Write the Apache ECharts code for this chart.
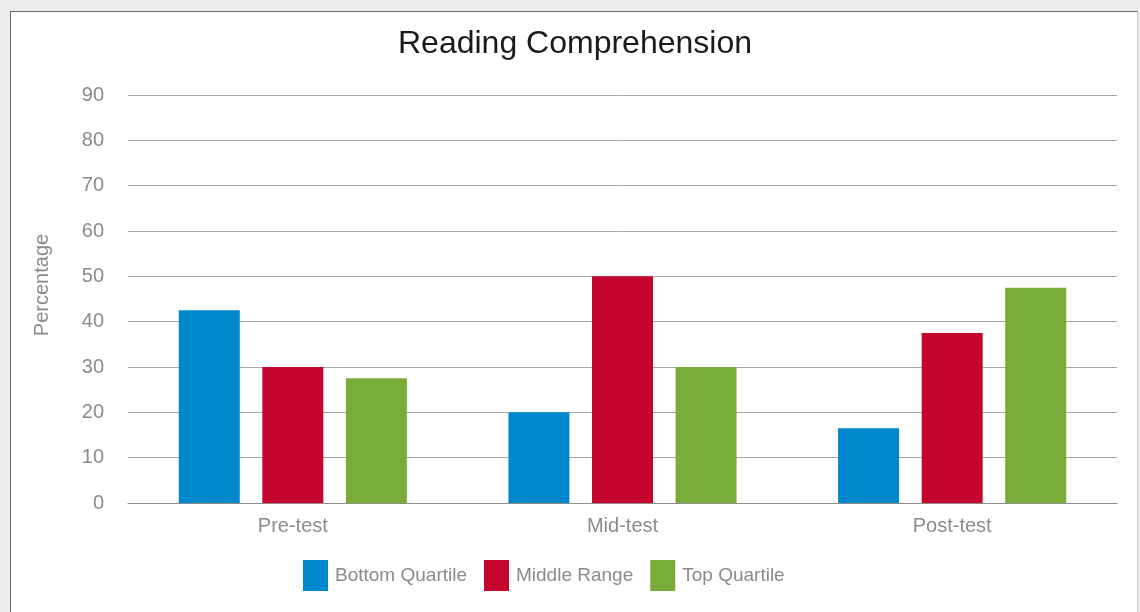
<!DOCTYPE html>
<html>
<head>
<meta charset="utf-8">
<script src="https://cdn.jsdelivr.net/npm/echarts@6/dist/echarts.min.js"></script>
<style>
html,body{margin:0;padding:0;background:#ebebed;width:1140px;height:612px;overflow:hidden;}
#panel{position:absolute;left:10px;top:11px;width:1126px;height:610px;background:#fff;border-left:1px solid #666;border-top:1px solid #666;border-right:1px solid #ccc;}
#chart{position:absolute;left:0;top:0;width:1140px;height:612px;}
</style>
</head>
<body>
<div id="panel"></div>
<div id="chart"></div>
<script>
const categories = ["Pre-test", "Mid-test", "Post-test"];
const seriesNames = ["Bottom Quartile", "Middle Range", "Top Quartile"];
const bottomQuartile = [42.5, 20, 16.5];
const middleRange = [30, 50, 37.5];
const topQuartile = [27.5, 30, 47.5];
const colors = ["#0088ce", "#c4062f", "#79ac37"];
const yMin = 0, yMax = 90, yStep = 10;

const font = "'Liberation Sans', Arial, sans-serif";
const chart = echarts.init(document.getElementById('chart'), null, {renderer: 'canvas'});
const values = [bottomQuartile, middleRange, topQuartile];
chart.setOption({
  backgroundColor: 'transparent',
  animation: false,
  color: colors,
  title: {
    text: 'Reading Comprehension',
    left: 393,
    top: 23,
    textStyle: {fontFamily: font, fontSize: 32, fontWeight: 'normal', color: '#1a1a1a'}
  },
  legend: {
    bottom: 16,
    left: 298,
    itemWidth: 25,
    itemHeight: 31,
    itemGap: 17,
    icon: 'rect',
    textStyle: {fontFamily: font, fontSize: 19, color: '#8a8a8f', padding: [0,0,0,2]},
    data: seriesNames
  },
  grid: {left: 128, right: 23, top: 95, bottom: 109, containLabel: false},
  xAxis: {
    type: 'category',
    data: categories,
    axisTick: {show: false},
    axisLine: {lineStyle: {color: '#8c8c8c', width: 1}},
    axisLabel: {fontFamily: font, fontSize: 20, color: '#8a8a8f', margin: 13}
  },
  yAxis: {
    type: 'value',
    min: yMin, max: yMax, interval: yStep,
    name: 'Percentage',
    nameLocation: 'middle',
    nameGap: 76,
    nameTextStyle: {fontFamily: font, fontSize: 20, color: '#8a8a8f', padding: [0, 0, 0, 28]},
    axisLine: {show: false},
    axisTick: {show: false},
    axisLabel: {fontFamily: font, fontSize: 20, color: '#8a8a8f', margin: 24},
    splitLine: {lineStyle: {color: '#a6a6a6', width: 1}}
  },
  series: seriesNames.map((n, i) => ({
    name: n,
    type: 'bar',
    data: values[i],
    barWidth: 61,
    barGap: '37%',
    itemStyle: {color: colors[i]}
  }))
});
</script>
</body>
</html>
